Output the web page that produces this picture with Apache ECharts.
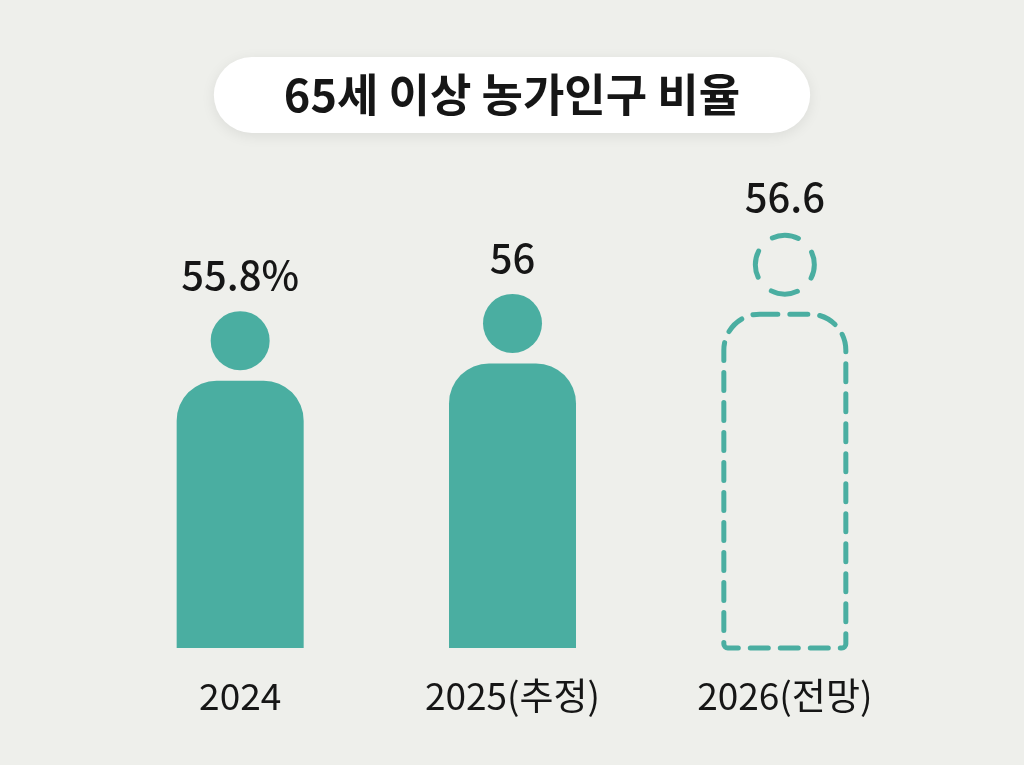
<!DOCTYPE html>
<html>
<head>
<meta charset="utf-8">
<script src="https://cdn.jsdelivr.net/npm/echarts@6/dist/echarts.min.js"></script>
<style>
html,body{margin:0;padding:0;background:#eeefeb;}
#chart{width:1024px;height:765px;}
</style>
</head>
<body>
<div id="chart"></div>
<script>
const titleText = '65세 이상 농가인구 비율';
const categories = ['2024', '2025(추정)', '2026(전망)'];
const values = [55.8, 56, 56.6];
const valueLabels = ['55.8%', '56', '56.6'];
const projected = [false, false, true];

const TEAL = '#4aaea1';
const FONT = '"Noto Sans CJK KR", "Noto Sans", sans-serif';

const chart = echarts.init(document.getElementById('chart'));

const barData = values.map((v, i) => projected[i] ? {
  value: v,
  itemStyle: {
    color: 'rgba(0,0,0,0)',
    borderColor: TEAL,
    borderWidth: 5,
    borderType: [18, 12],
    borderCap: 'round',
    borderRadius: [36, 36, 4, 4]
  }
} : { value: v });

const headData = values.map((v, i) => projected[i] ? {
  value: v,
  symbolOffset: [0, -47],
  itemStyle: {
    color: 'rgba(0,0,0,0)',
    borderColor: TEAL,
    borderWidth: 5,
    borderType: [27, 19.3],
    borderDashOffset: 13,
    borderCap: 'round',
    opacity: 1
  }
} : { value: v, symbolOffset: [0, -40] });

chart.setOption({
  backgroundColor: '#eeefeb',
  animation: false,
  title: {
    text: titleText,
    left: 'center',
    top: 57,
    padding: [12, 70],
    backgroundColor: '#ffffff',
    borderRadius: 38,
    shadowBlur: 14,
    shadowColor: 'rgba(0,0,0,0.08)',
    shadowOffsetY: 3,
    textStyle: {
      fontFamily: FONT,
      fontSize: 45,
      fontWeight: 'bold',
      color: '#161616',
      lineHeight: 52
    }
  },
  grid: { left: 104, right: 103, top: 234, bottom: 117 },
  xAxis: {
    type: 'category',
    data: categories,
    axisLine: { show: false },
    axisTick: { show: false },
    axisLabel: {
      fontFamily: FONT,
      fontSize: 37,
      color: '#161616',
      margin: 29
    }
  },
  yAxis: {
    type: 'value',
    min: 52.7,
    max: 57.5,
    show: false,
    splitLine: { show: false }
  },
  series: [
    {
      type: 'bar',
      data: barData,
      barWidth: 127,
      itemStyle: { color: TEAL, borderRadius: [40, 40, 0, 0] },
      z: 2
    },
    {
      type: 'scatter',
      data: headData,
      symbol: 'circle',
      symbolSize: 59,
      itemStyle: { color: TEAL, opacity: 1 },
      label: {
        show: true,
        position: 'top',
        distance: 16,
        fontFamily: FONT,
        fontSize: 40,
        fontWeight: 500,
        color: '#161616',
        formatter: p => valueLabels[p.dataIndex]
      },
      z: 3
    }
  ]
});
</script>
</body>
</html>
